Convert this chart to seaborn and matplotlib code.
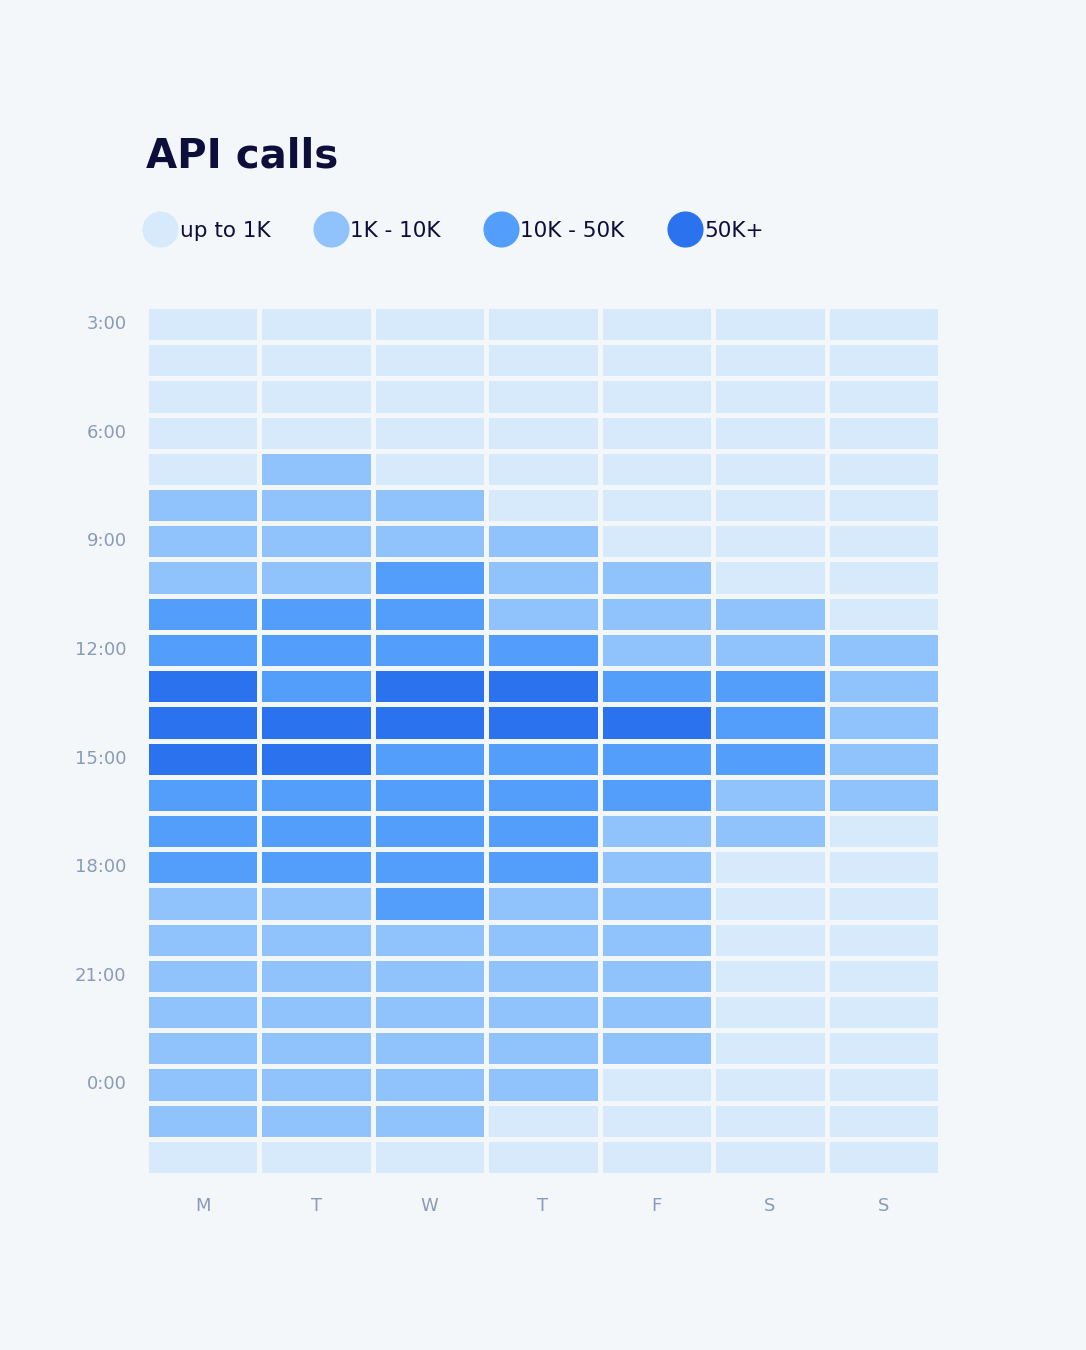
import matplotlib
matplotlib.use("Agg")
import matplotlib.pyplot as plt
import seaborn as sns
import numpy as np
import pandas as pd
from matplotlib.colors import ListedColormap
from matplotlib.lines import Line2D

days = ["M", "T", "W", "T", "F", "S", "S"]
hours = ["3:00","4:00","5:00","6:00","7:00","8:00","9:00","10:00","11:00","12:00",
         "13:00","14:00","15:00","16:00","17:00","18:00","19:00","20:00","21:00",
         "22:00","23:00","0:00","1:00","2:00"]
levels = ["up to 1K", "1K - 10K", "10K - 50K", "50K+"]
colors = ["#D6EAFC", "#90C3FC", "#529EFA", "#2B73EE"]

grid = [
    [0,0,0,0,0,0,0],
    [0,0,0,0,0,0,0],
    [0,0,0,0,0,0,0],
    [0,0,0,0,0,0,0],
    [0,1,0,0,0,0,0],
    [1,1,1,0,0,0,0],
    [1,1,1,1,0,0,0],
    [1,1,2,1,1,0,0],
    [2,2,2,1,1,1,0],
    [2,2,2,2,1,1,1],
    [3,2,3,3,2,2,1],
    [3,3,3,3,3,2,1],
    [3,3,2,2,2,2,1],
    [2,2,2,2,2,1,1],
    [2,2,2,2,1,1,0],
    [2,2,2,2,1,0,0],
    [1,1,2,1,1,0,0],
    [1,1,1,1,1,0,0],
    [1,1,1,1,1,0,0],
    [1,1,1,1,1,0,0],
    [1,1,1,1,1,0,0],
    [1,1,1,1,0,0,0],
    [1,1,1,0,0,0,0],
    [0,0,0,0,0,0,0],
]

bg = "#F4F7FA"
df = pd.DataFrame(grid, index=hours, columns=range(7))

fig = plt.figure(figsize=(10.86, 13.5), dpi=100, facecolor=bg)
ax = fig.add_axes([146/1086, 1-1175/1350, (940-146)/1086, (1175-306)/1350])
ax.set_facecolor(bg)
sns.heatmap(df, cmap=ListedColormap(colors), vmin=-0.5, vmax=3.5, cbar=False,
            linewidths=2.5, linecolor=bg, ax=ax)
ax.set_xticks(np.arange(7) + 0.5)
ax.set_xticklabels(days)
yt = list(range(0, 24, 3))
ax.set_yticks([i + 0.5 for i in yt])
ax.set_yticklabels([hours[i] for i in yt], rotation=0)
ax.tick_params(length=0, labelsize=13, labelcolor="#8A9BB8", pad=14)
ax.tick_params(axis="x", pad=16)
ax.set_xlabel(""); ax.set_ylabel("")
for s in ax.spines.values():
    s.set_visible(False)

fig.text(146/1086, 1-157/1350, "API calls", fontsize=29, fontweight="bold",
         color="#0D0F3A", va="center", ha="left")

handles = [Line2D([], [], marker="o", linestyle="", markersize=25,
                  markerfacecolor=c, markeredgecolor=c) for c in colors]
fig.legend(handles, levels, loc="center left", bbox_to_anchor=(128/1086, 1-231/1350),
           ncol=4, frameon=False, fontsize=15.5, handletextpad=0.3,
           columnspacing=2.2, labelcolor="#0D0F3A", handlelength=1.2)

fig.savefig("out.png", dpi=100, facecolor=bg)
